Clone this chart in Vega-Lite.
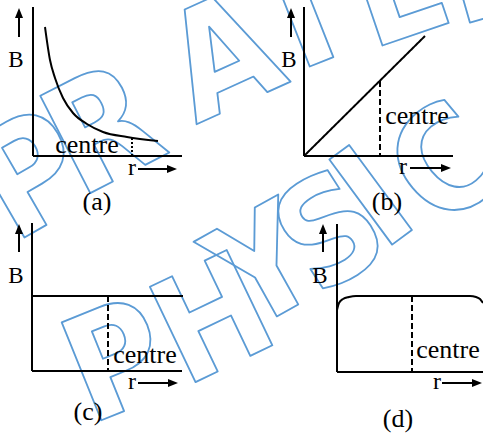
{
  "$schema": "https://vega.github.io/schema/vega-lite/v6.json",
  "width": 483,
  "height": 434,
  "autosize": {"type": "fit", "contains": "padding"},
  "padding": 0,
  "background": "white",
  "config": {"view": {"stroke": null}},
  "resolve": {"scale": {"angle": "independent"}},
  "datasets": {
    "wm1": [
      {"c": "P", "i": 0, "x": 34, "y": 180}, {"c": "R", "i": 1, "x": 105, "y": 135}, {"c": "A", "i": 2, "x": 225, "y": 62},
      {"c": "T", "i": 3, "x": 305, "y": 20}, {"c": "E", "i": 4, "x": 400, "y": -8}, {"c": "E", "i": 5, "x": 490, "y": -30}
    ],
    "wm2": [
      {"c": "P", "i": 0, "x": 118, "y": 366}, {"c": "H", "i": 1, "x": 215, "y": 324}, {"c": "Y", "i": 2, "x": 266, "y": 272},
      {"c": "S", "i": 3, "x": 333, "y": 236}, {"c": "I", "i": 4, "x": 376, "y": 202}, {"c": "C", "i": 5, "x": 450, "y": 168}
    ],
    "segs": [
      {"g": "a-y", "k": "solid", "o": 0, "x": 33, "y": 7}, {"g": "a-y", "k": "solid", "o": 1, "x": 33, "y": 156},
      {"g": "a-x", "k": "solid", "o": 0, "x": 33, "y": 156}, {"g": "a-x", "k": "solid", "o": 1, "x": 182, "y": 156},
      {"g": "a-up", "k": "solid", "o": 0, "x": 19, "y": 37}, {"g": "a-up", "k": "solid", "o": 1, "x": 19, "y": 16},
      {"g": "a-r", "k": "solid", "o": 0, "x": 138, "y": 169}, {"g": "a-r", "k": "solid", "o": 1, "x": 169, "y": 169},
      {"g": "b-y", "k": "solid", "o": 0, "x": 304, "y": 7}, {"g": "b-y", "k": "solid", "o": 1, "x": 304, "y": 156},
      {"g": "b-x", "k": "solid", "o": 0, "x": 304, "y": 156}, {"g": "b-x", "k": "solid", "o": 1, "x": 453, "y": 156},
      {"g": "b-l", "k": "solid", "o": 0, "x": 304, "y": 156}, {"g": "b-l", "k": "solid", "o": 1, "x": 425, "y": 36},
      {"g": "b-up", "k": "solid", "o": 0, "x": 291, "y": 37}, {"g": "b-up", "k": "solid", "o": 1, "x": 291, "y": 16},
      {"g": "b-r", "k": "solid", "o": 0, "x": 410, "y": 168}, {"g": "b-r", "k": "solid", "o": 1, "x": 443, "y": 168},
      {"g": "c-y", "k": "solid", "o": 0, "x": 32, "y": 223}, {"g": "c-y", "k": "solid", "o": 1, "x": 32, "y": 371},
      {"g": "c-x", "k": "solid", "o": 0, "x": 32, "y": 371}, {"g": "c-x", "k": "solid", "o": 1, "x": 182, "y": 371},
      {"g": "c-h", "k": "solid", "o": 0, "x": 32, "y": 296}, {"g": "c-h", "k": "solid", "o": 1, "x": 183, "y": 296},
      {"g": "c-up", "k": "solid", "o": 0, "x": 19, "y": 252}, {"g": "c-up", "k": "solid", "o": 1, "x": 19, "y": 231},
      {"g": "c-r", "k": "solid", "o": 0, "x": 138, "y": 383}, {"g": "c-r", "k": "solid", "o": 1, "x": 170, "y": 383},
      {"g": "d-y", "k": "solid", "o": 0, "x": 337, "y": 224}, {"g": "d-y", "k": "solid", "o": 1, "x": 337, "y": 372},
      {"g": "d-x", "k": "solid", "o": 0, "x": 337, "y": 372}, {"g": "d-x", "k": "solid", "o": 1, "x": 483, "y": 372},
      {"g": "d-up", "k": "solid", "o": 0, "x": 323, "y": 252}, {"g": "d-up", "k": "solid", "o": 1, "x": 323, "y": 231},
      {"g": "d-r", "k": "solid", "o": 0, "x": 442, "y": 383}, {"g": "d-r", "k": "solid", "o": 1, "x": 474, "y": 383},
      {"g": "b-dash", "k": "dashed", "o": 0, "x": 380, "y": 81}, {"g": "b-dash", "k": "dashed", "o": 1, "x": 380, "y": 156},
      {"g": "c-dash", "k": "dashed", "o": 0, "x": 108, "y": 296}, {"g": "c-dash", "k": "dashed", "o": 1, "x": 108, "y": 371},
      {"g": "d-dash", "k": "dashed", "o": 0, "x": 412, "y": 296}, {"g": "d-dash", "k": "dashed", "o": 1, "x": 412, "y": 372},
      {"g": "a-dot", "k": "dotted", "o": 0, "x": 132, "y": 138}, {"g": "a-dot", "k": "dotted", "o": 1, "x": 132, "y": 156}
    ],
    "curves": [
      {"g": "a", "o": 0, "x": 45, "y": 27}, {"g": "a", "o": 1, "x": 50, "y": 60}, {"g": "a", "o": 2, "x": 55, "y": 78},
      {"g": "a", "o": 3, "x": 63, "y": 98}, {"g": "a", "o": 4, "x": 73, "y": 113}, {"g": "a", "o": 5, "x": 87, "y": 124},
      {"g": "a", "o": 6, "x": 103, "y": 132}, {"g": "a", "o": 7, "x": 127, "y": 137}, {"g": "a", "o": 8, "x": 158, "y": 141},
      {"g": "d", "o": 0, "x": 337, "y": 310}, {"g": "d", "o": 1, "x": 339, "y": 303}, {"g": "d", "o": 2, "x": 343, "y": 299},
      {"g": "d", "o": 3, "x": 349, "y": 297}, {"g": "d", "o": 4, "x": 356, "y": 296}, {"g": "d", "o": 5, "x": 470, "y": 296},
      {"g": "d", "o": 6, "x": 476, "y": 297}, {"g": "d", "o": 7, "x": 480, "y": 299}, {"g": "d", "o": 8, "x": 483, "y": 303}
    ],
    "heads": [
      {"dir": "up", "x": 19, "y": 13}, {"dir": "up", "x": 291, "y": 13}, {"dir": "up", "x": 19, "y": 229}, {"dir": "up", "x": 323, "y": 229},
      {"dir": "right", "x": 172, "y": 169}, {"dir": "right", "x": 446, "y": 168}, {"dir": "right", "x": 173, "y": 383}, {"dir": "right", "x": 477, "y": 383}
    ],
    "labels": [
      {"t": "B", "x": 16, "y": 67, "s": 23}, {"t": "B", "x": 289, "y": 67, "s": 23}, {"t": "B", "x": 16, "y": 283, "s": 23}, {"t": "B", "x": 320, "y": 283, "s": 23},
      {"t": "r", "x": 132, "y": 175, "s": 24}, {"t": "r", "x": 403, "y": 174, "s": 24}, {"t": "r", "x": 132, "y": 389, "s": 24}, {"t": "r", "x": 437, "y": 389, "s": 24},
      {"t": "centre", "x": 87, "y": 153, "s": 26}, {"t": "centre", "x": 417, "y": 124, "s": 26}, {"t": "centre", "x": 145, "y": 363, "s": 26}, {"t": "centre", "x": 448, "y": 358, "s": 26},
      {"t": "(a)", "x": 97, "y": 210, "s": 26}, {"t": "(b)", "x": 387, "y": 210, "s": 26}, {"t": "(c)", "x": 88, "y": 420, "s": 26}, {"t": "(d)", "x": 398, "y": 427, "s": 26}
    ]
  },
  "layer": [
    {
      "data": {"name": "wm1"},
      "mark": {"type": "text", "font": "'Liberation Sans Narrow', 'DejaVu Sans Condensed', 'Liberation Sans'", "fontWeight": "bold", "fontSize": 150, "fill": "transparent", "stroke": "#5b9bd5", "strokeWidth": 1.8, "strokeJoin": "round", "align": "center", "baseline": "middle", "clip": true},
      "encoding": {
        "x": {"field": "x", "type": "quantitative", "scale": {"domain": [0, 483]}, "axis": null},
        "y": {"field": "y", "type": "quantitative", "scale": {"domain": [434, 0]}, "axis": null},
        "text": {"field": "c"},
        "angle": {"field": "i", "type": "quantitative", "scale": {"domain": [0, 5], "range": [-30, -16]}, "legend": null}
      }
    },
    {
      "data": {"name": "wm2"},
      "mark": {"type": "text", "font": "'Liberation Sans Narrow', 'DejaVu Sans Condensed', 'Liberation Sans'", "fontWeight": "bold", "fontSize": 145, "fill": "transparent", "stroke": "#5b9bd5", "strokeWidth": 1.8, "strokeJoin": "round", "align": "center", "baseline": "middle", "clip": true},
      "encoding": {
        "x": {"field": "x", "type": "quantitative", "scale": {"domain": [0, 483]}, "axis": null},
        "y": {"field": "y", "type": "quantitative", "scale": {"domain": [434, 0]}, "axis": null},
        "text": {"field": "c"},
        "angle": {"field": "i", "type": "quantitative", "scale": {"domain": [0, 5], "range": [-22, -40]}, "legend": null}
      }
    },
    {
      "data": {"name": "segs"},
      "mark": {"type": "line", "color": "black", "strokeWidth": 2, "clip": true},
      "encoding": {
        "x": {"field": "x", "type": "quantitative", "scale": {"domain": [0, 483]}, "axis": null},
        "y": {"field": "y", "type": "quantitative", "scale": {"domain": [434, 0]}, "axis": null},
        "detail": {"field": "g"},
        "order": {"field": "o"},
        "strokeDash": {"field": "k", "type": "nominal", "scale": {"domain": ["solid", "dashed", "dotted"], "range": [[1, 0], [6, 3], [2, 2]]}, "legend": null}
      }
    },
    {
      "data": {"name": "curves"},
      "mark": {"type": "line", "color": "black", "strokeWidth": 2, "interpolate": "monotone", "clip": true},
      "encoding": {
        "x": {"field": "x", "type": "quantitative", "scale": {"domain": [0, 483]}, "axis": null},
        "y": {"field": "y", "type": "quantitative", "scale": {"domain": [434, 0]}, "axis": null},
        "detail": {"field": "g"},
        "order": {"field": "o"}
      }
    },
    {
      "data": {"name": "heads"},
      "mark": {"type": "point", "filled": true, "color": "black", "opacity": 1, "size": 100},
      "encoding": {
        "x": {"field": "x", "type": "quantitative", "scale": {"domain": [0, 483]}, "axis": null},
        "y": {"field": "y", "type": "quantitative", "scale": {"domain": [434, 0]}, "axis": null},
        "shape": {"field": "dir", "type": "nominal", "scale": {"domain": ["up", "right"], "range": ["M0,-1L-0.8,1L0.8,1Z", "M1,0L-1,-0.8L-1,0.8Z"]}, "legend": null}
      }
    },
    {
      "data": {"name": "labels"},
      "mark": {"type": "text", "font": "Liberation Serif", "color": "black", "align": "center", "baseline": "alphabetic"},
      "encoding": {
        "x": {"field": "x", "type": "quantitative", "scale": {"domain": [0, 483]}, "axis": null},
        "y": {"field": "y", "type": "quantitative", "scale": {"domain": [434, 0]}, "axis": null},
        "text": {"field": "t"},
        "size": {"field": "s", "type": "quantitative", "scale": null, "legend": null}
      }
    }
  ]
}
